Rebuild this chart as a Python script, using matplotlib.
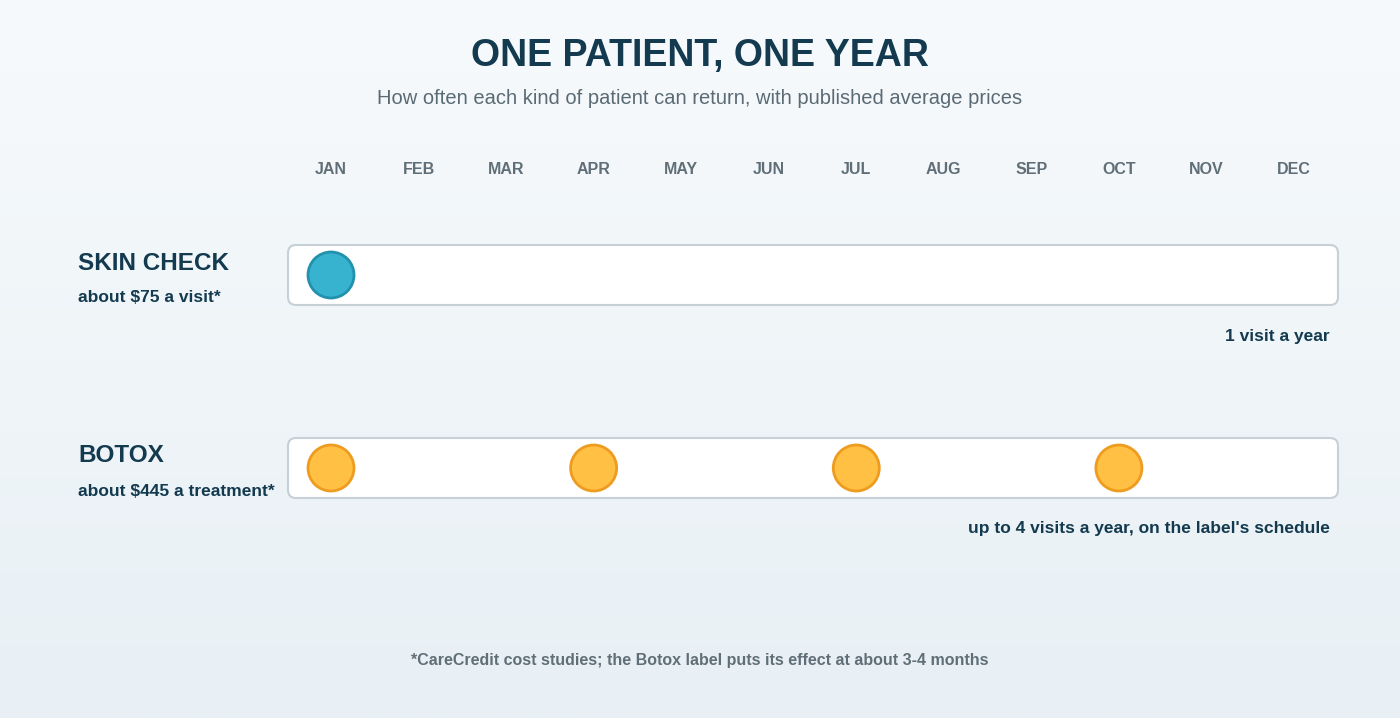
import matplotlib
matplotlib.use("Agg")
import matplotlib.pyplot as plt
import numpy as np
from matplotlib.patches import FancyBboxPatch, Ellipse

months = ["JAN","FEB","MAR","APR","MAY","JUN","JUL","AUG","SEP","OCT","NOV","DEC"]
rows = ["SKIN CHECK", "BOTOX"]
prices = ["about $75 a visit*", "about $445 a treatment*"]
visit_months = [[0], [0, 3, 6, 9]]
notes = ["1 visit a year", "up to 4 visits a year, on the label's schedule"]
fills = ["#37b3cf", "#ffc043"]
edges = ["#2191ad", "#ee9c1f"]

plt.rcParams['font.family'] = ['Liberation Sans', 'DejaVu Sans']
W, H = 1400, 718
fig = plt.figure(figsize=(14, 7.18), dpi=100)
ax = fig.add_axes([0, 0, 1, 1])
step = (1294 - 331) / 11
x0 = -331 / step
x1 = (W - 331) / step
ax.set_xlim(x0, x1)
ax.set_ylim(H, 0)
ax.axis('off')

grad = np.linspace(0, 1, 256)[:, None]
c1 = np.array([247, 250, 252]) / 255
c2 = np.array([232, 240, 245]) / 255
img = c1 + (c2 - c1) * grad[..., None]
ax.imshow(img, extent=[x0, x1, H, 0], aspect='auto', zorder=0)

dark = "#133a4f"
ax.text(0.5, 56, "ONE PATIENT, ONE YEAR", transform=ax.get_yaxis_transform(), ha='center', va='center',
        fontsize=27, fontweight='bold', color=dark)
ax.text(0.5, 99, "How often each kind of patient can return, with published average prices",
        transform=ax.get_yaxis_transform(), ha='center', va='center', fontsize=14.5, color="#5a6b75")
for i, m in enumerate(months):
    ax.text(i, 170, m, ha='center', va='center', fontsize=11.5, fontweight='bold', color="#5f6e77")

px = 1 / step
r = 23
for k, name in enumerate(rows):
    yc = 275 + k * 193
    ax.add_patch(FancyBboxPatch(((288 - 331) * px, yc - 30), (1338 - 288) * px, 60,
                                boxstyle=f"round,pad=0,rounding_size={8*px}", mutation_aspect=1/px,
                                facecolor='white', edgecolor='#c5d0d7', lw=1.5, zorder=2))
    for m in visit_months[k]:
        ax.add_patch(Ellipse((m, yc), 2 * r * px, 2 * r, facecolor=fills[k], edgecolor=edges[k], lw=2, zorder=3))
    ax.text((78 - 331) * px, yc - 12, name, ha='left', va='center', fontsize=17.5, fontweight='bold', color=dark)
    ax.text((78 - 331) * px, yc + 23, prices[k], ha='left', va='center', fontsize=12.5, fontweight='bold', color=dark)
    ax.text((1330 - 331) * px, yc + 61, notes[k], ha='right', va='center', fontsize=12.5, fontweight='bold', color=dark)

ax.text(0.5, 660, "*CareCredit cost studies; the Botox label puts its effect at about 3-4 months",
        transform=ax.get_yaxis_transform(), ha='center', va='center', fontsize=11.5, fontweight='bold', color="#5f6e77")
fig.savefig("out.png", dpi=100)
